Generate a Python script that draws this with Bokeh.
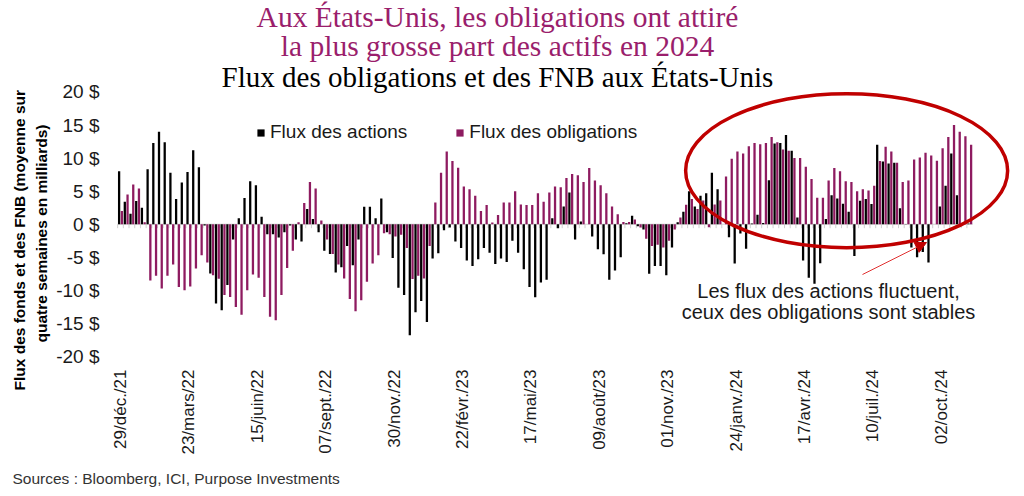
import math
from bokeh.plotting import figure
from bokeh.models import (FixedTicker, Label, Legend, LegendItem, Arrow, NormalHead,
                          ColumnDataSource, Range1d, Title)
from bokeh.transform import dodge
from bokeh.embed import file_html
from bokeh.resources import INLINE

# ---------------- data ----------------
tick_labels = ["29/déc./21", "23/mars/22", "15/juin/22", "07/sept./22", "30/nov./22",
               "22/févr./23", "17/mai/23", "09/août/23", "01/nov./23", "24/janv./24",
               "17/avr./24", "10/juil./24", "02/oct./24"]
tick_weeks = [0, 12, 24, 36, 48, 60, 72, 84, 96, 108, 120, 132, 144]

y_ticks = [-20, -15, -10, -5, 0, 5, 10, 15, 20]

equity_flows = [
    8.0, 3.4, 1.6, 3.5, 2.5, 8.3, 12.3, 14.0, 12.4, 7.8,
    3.8, 6.3, 7.9, 11.2, 8.6, -0.2, -7.45, -12.0, -13.0, -9.2,
    -2.3, 0.9, 3.95, 6.5, 5.9, 1.15, -1.5, -1.5, -2.0, -1.2,
    -0.2, -2.3, -2.6, 2.3, 0.8, -1.2, -4.0, -4.5, -7.3, -6.5,
    -3.3, -6.2, -2.3, 2.65, 2.65, 0.9, 3.9, -1.2, -5.1, -9.6,
    -10.7, -16.8, -13.3, -11.6, -14.8, -5.2, -4.4, -0.9, -0.5, -2.6,
    -3.6, -5.5, -6.3, -5.3, -3.6, -4.3, -6.0, -5.2, -5.7, -2.5,
    -4.3, -6.8, -9.5, -11.05, -8.8, -8.4, 0.9, -0.6, 2.7, 4.8,
    -2.3, 0.4, 0.0, -1.85, -3.8, -4.55, -8.4, -7.0, -5.0, 0.15,
    1.3, -0.3, -0.8, -7.5, -6.3, -6.3, -7.7, -3.5, 0.3, 1.9,
    5.0, 2.7, 4.3, 4.7, 7.8, 5.3, 0.0, -1.95, -5.95, -1.4,
    -3.7, 0.1, 1.45, 0.2, 6.65, 12.2, 12.3, 13.5, 11.1, 1.0,
    -5.5, -8.1, -9.0, -5.9, 0.8, 4.4, 3.9, 3.1, 1.9, -4.8,
    3.55, 3.8, 3.05, 12.0, 9.5, 9.2, 9.3, 2.4, 0.05, -3.5,
    -5.0, -4.2, -5.8, 0.0, 2.7, 5.8, 10.7, 4.4, 0.0, 0.1,
]

bond_flows = [
    2.0, 4.5, 6.0, 5.4, 0.3, -8.5, -7.8, -9.7, -7.8, -6.1,
    -9.5, -10.0, -9.4, -6.7, -4.7, -5.8, -7.7, -8.25, -10.7, -11.0,
    -12.5, -13.7, -10.0, -7.6, -8.1, -11.0, -14.0, -14.5, -10.7, -6.6,
    -4.0, 0.3, 3.2, 6.4, 5.4, 0.55, -2.3, -4.5, -6.1, -8.2,
    -11.3, -13.15, -11.5, -8.7, -5.95, -4.7, -1.35, -1.5, -1.85, -1.6,
    -3.6, -8.3, -7.8, -8.2, -3.3, 3.3, 7.8, 11.0, 9.55, 8.55,
    5.7, 5.3, 4.3, 2.0, 2.9, 0.25, 1.4, 3.3, 3.3, 5.0,
    3.0, 2.9, 2.9, 4.7, 3.4, 4.8, 5.7, 5.6, 7.0, 7.6,
    7.4, 6.4, 8.5, 6.6, 5.9, 4.7, 2.7, 1.5, 0.35, 0.35,
    0.7, -0.5, -2.2, -3.3, -3.1, -3.5, -2.5, -0.8, 1.0, 2.95,
    3.8, 2.3, 3.6, -0.45, 3.0, 3.6, 7.2, 9.9, 11.0, 10.7,
    11.8, 12.3, 12.1, 12.3, 13.2, 12.4, 11.3, 11.1, 10.0, 10.0,
    8.7, 6.85, 4.0, 4.0, 6.6, 8.5, 8.0, 6.5, 6.4, 5.0,
    5.3, 5.1, 5.8, 9.55, 11.7, 11.0, 9.3, 6.4, 6.6, 9.8,
    10.1, 10.8, 10.4, 9.6, 11.5, 13.2, 15.0, 14.0, 13.3, 12.0,
]

weeks = list(range(len(equity_flows)))

# ---------------- styles ----------------
PURPLE = "#8E1B60"
TITLE_PURPLE = "#9A1E6C"
RED = "#C00000"
SANS = "Liberation Sans"
SERIF = "Liberation Serif"

src = ColumnDataSource(dict(week=weeks, equity=equity_flows, bond=bond_flows))

# frame spans from the very top of the figure down to the -20 $ line;
# y range extended upward so that 20 $ sits at the same height as the reference
p = figure(width=1020, height=496,
           x_range=Range1d(-1.4, 156.5), y_range=Range1d(-20, 33.83),
           output_backend="svg", toolbar_location=None,
           min_border_left=112, min_border_right=8,
           min_border_top=0, min_border_bottom=138)
p.outline_line_color = None
p.xgrid.visible = False
p.ygrid.visible = False
p.background_fill_color = "white"

# zero line with small category ticks
p.segment(x0=dodge("week", -0.5, range=p.x_range), x1=dodge("week", 0.5, range=p.x_range),
          y0=0, y1=0, source=src, line_color="#D0D0D0", line_width=1)
p.segment(x0=dodge("week", -0.5, range=p.x_range), x1=dodge("week", -0.5, range=p.x_range),
          y0=0, y1=-0.6, source=src, line_color="#D0D0D0", line_width=1)

r_eq = p.vbar(x=dodge("week", -0.24, range=p.x_range), top="equity", width=0.4,
              source=src, fill_color="black", line_color=None)
r_bd = p.vbar(x=dodge("week", 0.24, range=p.x_range), top="bond", width=0.4,
              source=src, fill_color=PURPLE, line_color=None)

# axes
p.yaxis.ticker = FixedTicker(ticks=y_ticks)
p.yaxis.major_label_overrides = {v: f"{v} $" for v in y_ticks}
p.yaxis.axis_line_color = None
p.yaxis.major_tick_line_color = None
p.yaxis.minor_tick_line_color = None
p.yaxis.major_label_text_font = SANS
p.yaxis.major_label_text_font_size = "19px"
p.yaxis.major_label_text_color = "#1a1a1a"
p.yaxis.major_label_standoff = 7

p.xaxis.ticker = FixedTicker(ticks=tick_weeks)
p.xaxis.major_label_overrides = dict(zip(tick_weeks, tick_labels))
p.xaxis.major_label_orientation = math.pi / 2
p.xaxis.axis_line_color = None
p.xaxis.major_tick_line_color = None
p.xaxis.minor_tick_line_color = None
p.xaxis.major_label_text_font = SANS
p.xaxis.major_label_text_font_size = "17px"
p.xaxis.major_label_text_color = "#1a1a1a"
p.xaxis.major_label_standoff = 7

# y-axis title, two lines (nearest line first)
p.add_layout(Title(text="quatre semaines en milliards)", align="left", offset=14, standoff=7,
                   text_font=SANS, text_font_size="15.5px", text_font_style="bold",
                   text_color="black"), "left")
p.add_layout(Title(text="Flux des fonds et des FNB (moyenne sur", align="left", offset=-34,
                   standoff=0, text_font=SANS, text_font_size="15.5px", text_font_style="bold",
                   text_color="black"), "left")

# legend
legend = Legend(items=[LegendItem(label="Flux des actions", renderers=[r_eq]),
                       LegendItem(label="Flux des obligations", renderers=[r_bd])],
                orientation="horizontal", location=(144, 213),
                border_line_color=None, background_fill_alpha=0,
                label_text_font=SANS, label_text_font_size="19px",
                label_text_color="#1a1a1a",
                glyph_width=9, glyph_height=9, label_standoff=5,
                spacing=48, padding=0, margin=0)
p.add_layout(legend)

# highlight ellipse
p.ellipse(x=[127.4], y=[8.1], width=322, height=154,
          width_units="screen", height_units="screen",
          fill_color=None, line_color=RED, line_width=3.5)

# arrow
p.add_layout(Arrow(end=NormalHead(size=11, fill_color=RED, line_color=RED),
                   x_start=750, y_start=82, x_end=814, y_end=114,
                   start_units="screen", end_units="screen",
                   line_color="#E03030", line_width=1))

# annotation texts
for txt, yy in [("Les flux des actions fluctuent,", 66), ("ceux des obligations sont stables", 45)]:
    p.add_layout(Label(x=716, y=yy, x_units="screen", y_units="screen", text=txt,
                       text_align="center", text_baseline="middle",
                       text_font=SANS, text_font_size="20px", text_color="#1a1a1a"))

# titles (inside the frame's upper margin)
for txt, yy, size, col in [("Aux États-Unis, les obligations ont attiré", 340, "29.5px", TITLE_PURPLE),
                           ("la plus grosse part des actifs en 2024", 311, "29.5px", TITLE_PURPLE),
                           ("Flux des obligations et des FNB aux États-Unis", 280, "29px", "black")]:
    p.add_layout(Label(x=385, y=yy, x_units="screen", y_units="screen", text=txt,
                       text_align="center", text_baseline="middle",
                       text_font=SERIF, text_font_size=size, text_color=col))

# source
p.add_layout(Title(text="Sources : Bloomberg, ICI, Purpose Investments",
                   align="left", offset=-100, standoff=20,
                   text_font=SANS, text_font_size="15.5px", text_font_style="normal",
                   text_color="#333333"), "below")

open("out.html", "w").write(file_html(p, INLINE))
